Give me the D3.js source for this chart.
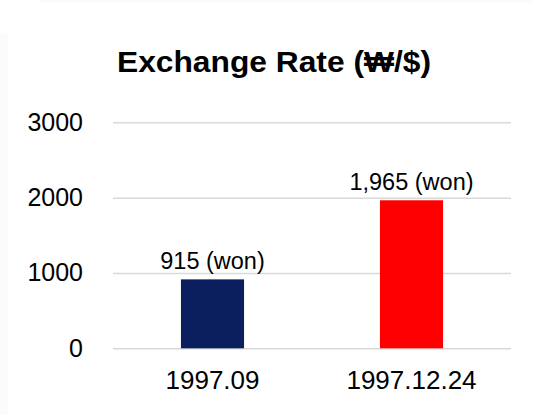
<!DOCTYPE html>
<html>
<head>
<meta charset="utf-8">
<script src="https://cdn.jsdelivr.net/npm/d3@7"></script>
<style>
  body { margin: 0; background: #fff; }
  text { font-family: "Liberation Sans", Arial, sans-serif; fill: #000; }
</style>
</head>
<body>
<svg id="chart"></svg>
<script>
// data
const periods = ["1997.09", "1997.12.24"];
const rates = [915, 1965];
const rateLabels = ["915 (won)", "1,965 (won)"];
const barColors = ["#0b1f5e", "#ff0000"];
const yTicks = [0, 1000, 2000, 3000];

const width = 533;
const height = 415;
const svg = d3.select("#chart").attr("width", width).attr("height", height);

// faint frame edges seen in the screenshot
svg.append("rect").attr("x", 40).attr("y", 0).attr("width", width - 40).attr("height", 3).attr("fill", "#fbfbfb");
svg.append("rect").attr("x", 0).attr("y", 34).attr("width", 8).attr("height", height - 34).attr("fill", "#fbfbfb");

const x = d3.scaleBand()
  .domain(periods)
  .range([113, 511])
  .paddingInner(0.683)
  .paddingOuter(0.3415);
const y = d3.scaleLinear().domain([0, 3000]).range([348.3, 122.3]);

/* title */
svg.append("text")
  .attr("x", 274)
  .attr("y", 72)
  .attr("text-anchor", "middle")
  .attr("textLength", 314)
  .attr("lengthAdjust", "spacingAndGlyphs")
  .style("font-size", "29.5px")
  .style("font-weight", "bold")
  .text("Exchange Rate (₩/$)");

/* grid + y labels */
const yAxis = svg.append("g").attr("transform", "translate(113,0)")
  .call(d3.axisLeft(y).tickValues(yTicks).tickSize(-398).tickPadding(30).tickFormat(d3.format("d")));
yAxis.select(".domain").remove();
yAxis.selectAll(".tick line").attr("stroke", "#d9d9d9").attr("stroke-width", 1.5);
yAxis.selectAll(".tick text")
  .attr("fill", "#000")
  .style("font-size", "25px")
  .style("font-family", "'Liberation Sans', Arial, sans-serif");

/* x labels */
const xAxis = svg.append("g").attr("transform", "translate(0,348.3)")
  .call(d3.axisBottom(x).tickSize(0).tickPadding(22));
xAxis.select(".domain").remove();
xAxis.selectAll(".tick text")
  .attr("fill", "#000")
  .style("font-size", "26px")
  .style("font-family", "'Liberation Sans', Arial, sans-serif");

/* bars */
const bars = svg.append("g").selectAll("g").data(periods).join("g");
bars.append("rect")
  .attr("x", d => x(d))
  .attr("width", x.bandwidth())
  .attr("y", (d, i) => y(rates[i]))
  .attr("height", (d, i) => y(0) - y(rates[i]))
  .attr("fill", (d, i) => barColors[i]);
bars.append("text")
  .attr("x", d => x(d) + x.bandwidth() / 2)
  .attr("y", (d, i) => y(rates[i]) - 10.5)
  .attr("text-anchor", "middle")
  .style("font-size", "23.5px")
  .text((d, i) => rateLabels[i]);
</script>
</body>
</html>
